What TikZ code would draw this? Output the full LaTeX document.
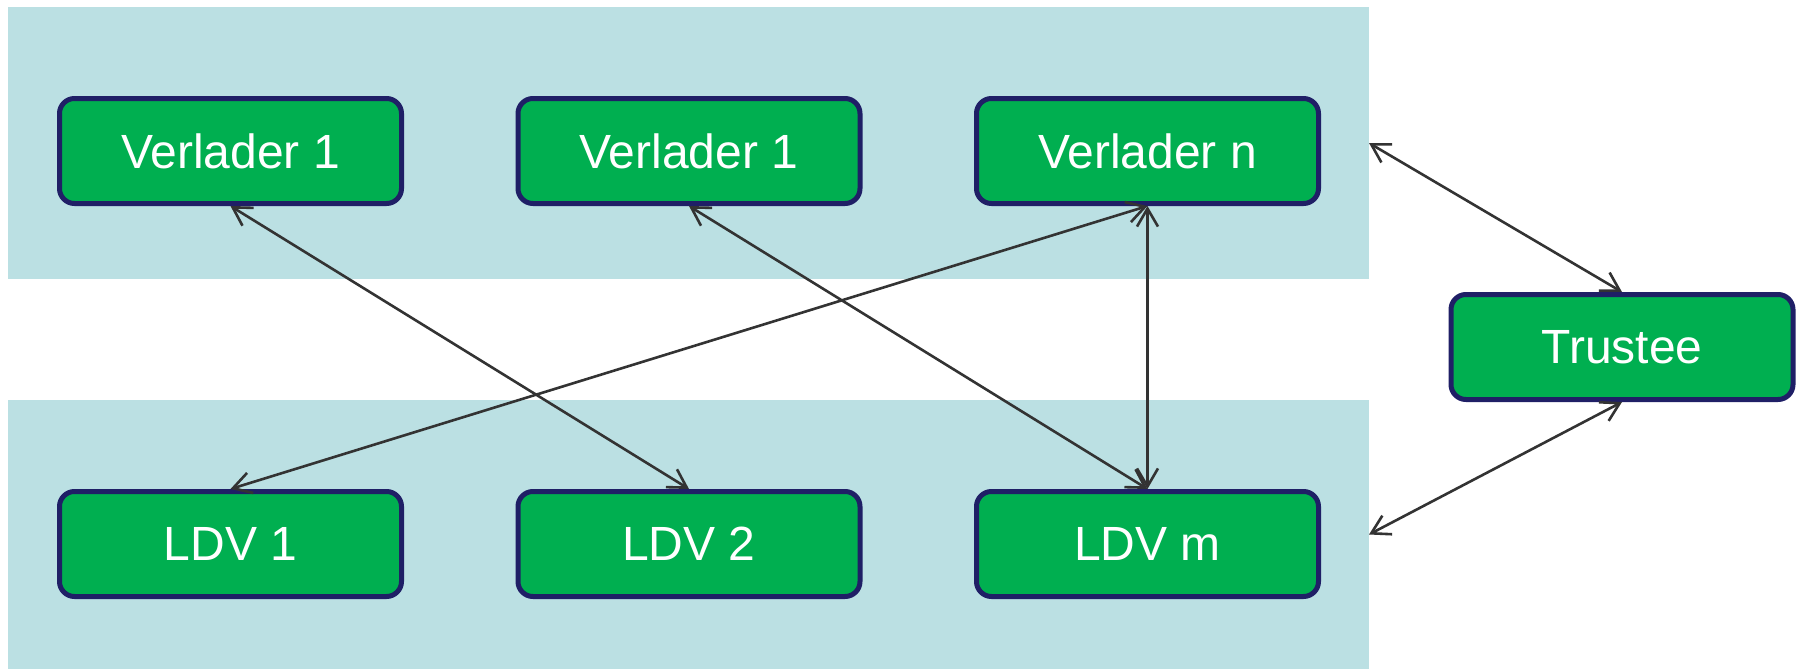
\documentclass[tikz,border=0pt]{standalone}
\usepackage{fontspec}
\setmainfont{Liberation Sans}
\usetikzlibrary{arrows.meta}
\definecolor{bandcol}{HTML}{BBE0E3}
\definecolor{boxgreen}{HTML}{00AF50}
\definecolor{boxline}{HTML}{1F1F66}
\definecolor{arrowcol}{HTML}{333333}
\begin{document}
\begin{tikzpicture}[x=0.5pt,y=-0.5pt,
  bandbox/.style={fill=bandcol, draw=none, inner sep=0pt, outer sep=0pt,
    minimum width=680.5pt, rectangle},
  entity/.style={rectangle, rounded corners=7.5pt, fill=boxgreen, draw=boxline,
    line width=2.5pt, minimum width=171pt, minimum height=52.5pt,
    text=white, font=\fontsize{24}{29}\selectfont, inner sep=0pt},
  link/.style={draw=arrowcol, line width=1.3pt,
    {Straight Barb[length=9pt,width=10.5pt]}-{Straight Barb[length=9pt,width=10.5pt]}}]
\useasboundingbox (0,0) rectangle (1796,669);
\node[bandbox, minimum height=136pt] (topband) at (688.5,143) {};
\node[bandbox, minimum height=134.5pt] (lowband) at (688.5,534.5) {};
\node[entity] (v1) at (230.5,151) {Verlader 1};
\node[entity] (v2) at (689,151) {Verlader 1};
\node[entity] (vn) at (1147.5,151) {Verlader n};
\node[entity] (l1) at (230.5,544) {LDV 1};
\node[entity] (l2) at (689,544) {LDV 2};
\node[entity] (lm) at (1147.5,544) {LDV m};
\node[entity] (tr) at (1622,347) {Trustee};
\draw[link] (v1.south) -- (l2.north);
\draw[link] (v2.south) -- (lm.north);
\draw[link] (vn.south) -- (l1.north);
\draw[link] (vn.south) -- (lm.north);
\draw[link] (topband.east) -- (tr.north);
\draw[link] (lowband.east) -- (tr.south);
\end{tikzpicture}
\end{document}
